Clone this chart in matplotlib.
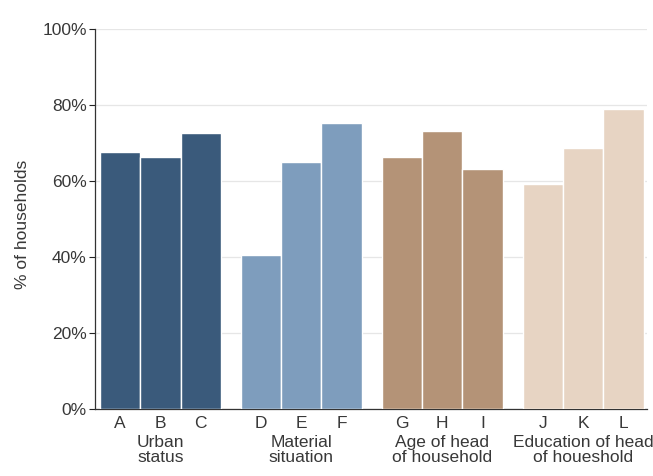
import matplotlib
matplotlib.use("Agg")
import matplotlib.pyplot as plt
from matplotlib.ticker import FuncFormatter
import matplotlib.transforms as mtransforms

plt.rcParams['font.family'] = ['Liberation Sans', 'DejaVu Sans']

categories = ["A", "B", "C", "D", "E", "F", "G", "H", "I", "J", "K", "L"]
values = [67.6, 66.3, 72.6, 40.5, 65.0, 75.3, 66.3, 73.2, 63.2, 59.2, 68.7, 78.9]
groups = ["Urban\nstatus", "Material\nsituation", "Age of head\nof household", "Education of head\nof houeshold"]
group_colors = ["#3a5a7b", "#7e9dbd", "#b49377", "#e7d4c3"]
yticks = [0, 20, 40, 60, 80, 100]

FS = 12.5
fig = plt.figure(figsize=(6.53, 4.76), dpi=100)
ax = fig.add_axes([0.1455, 0.141, 0.845, 0.798])

positions = []
colors = []
for i in range(len(categories)):
    g = i // 3
    positions.append(i + 0.5 * g)
    colors.append(group_colors[g])

ax.bar(positions, values, width=1.0, color=colors, edgecolor="white", linewidth=1.0, zorder=3)

ax.set_ylim(0, 100)
ax.set_xlim(-0.625, positions[-1] + 0.58)
ax.set_yticks(yticks)
ax.yaxis.set_major_formatter(FuncFormatter(lambda v, p: f"{int(v)}%"))
ax.set_xticks(positions)
ax.set_xticklabels(categories)
ax.tick_params(axis='x', length=0, pad=5, labelsize=FS, colors="#222222")
ax.tick_params(axis='y', length=4, width=0.8, labelsize=FS, colors="#222222", direction='out', pad=2)
for lab in ax.get_xticklabels() + ax.get_yticklabels():
    lab.set_color("#383838")

ax.grid(axis='y', color="#e6e6e6", linewidth=0.9, zorder=0)
ax.set_axisbelow(True)
for s in ["top", "right"]:
    ax.spines[s].set_visible(False)
ax.spines["left"].set_color("#333333")
ax.spines["bottom"].set_color("#333333")
ax.spines["left"].set_linewidth(0.9)
ax.spines["bottom"].set_linewidth(0.9)

ax.set_ylabel("% of households", fontsize=FS, color="#383838")
ax.yaxis.set_label_coords(-0.117, 0.485)

trans = mtransforms.blended_transform_factory(ax.transData, ax.transAxes)
for g, name in enumerate(groups):
    center = positions[3 * g + 1]
    ax.text(center, -0.07, name, transform=trans, ha="center", va="top",
            fontsize=FS, color="#383838", linespacing=1.0)

fig.savefig("out.png", dpi=100)
